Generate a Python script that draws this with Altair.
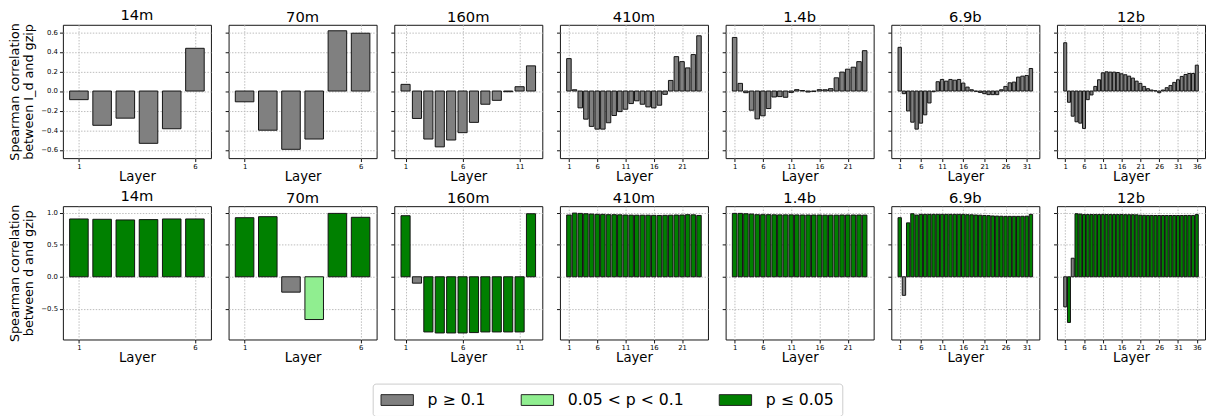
import altair as alt
import pandas as pd

MODELS = ["14m", "70m", "160m", "410m", "1.4b", "6.9b", "12b"]

SIG_HI = "p ≥ 0.1"
SIG_MID = "0.05 < p < 0.1"
SIG_LO = "p ≤ 0.05"
CATEGORIES = [SIG_HI, SIG_MID, SIG_LO]
COLORS = ["#808080", "#90ee90", "#008000"]

# --- top row: Spearman correlation between I_d and gzip ---
TOP_14M = [-0.088, -0.35, -0.277, -0.534, -0.385, 0.436]
TOP_70M = [-0.11, -0.40, -0.595, -0.49, 0.615, 0.59]
TOP_160M = [0.068, -0.28, -0.49, -0.57, -0.50, -0.425, -0.32, -0.135, -0.095, -0.007, 0.044, 0.257]
TOP_410M = [0.331, 0.013, -0.172, -0.287, -0.361, -0.389, -0.389, -0.324, -0.25, -0.21, -0.186, -0.128,
            -0.10, -0.135, -0.162, -0.172, -0.145, -0.034, 0.108, 0.351, 0.30, 0.236, 0.372, 0.564]
TOP_1_4B = [0.547, 0.078, -0.017, -0.196, -0.284, -0.253, -0.179, -0.061, -0.057, -0.064, -0.014, 0.014,
            0.005, -0.01, -0.004, 0.014, 0.013, 0.024, 0.135, 0.193, 0.223, 0.243, 0.30, 0.412]
TOP_6_9B = [0.446, -0.027, -0.203, -0.318, -0.389, -0.328, -0.243, -0.122, -0.007, 0.095, 0.118, 0.101,
            0.118, 0.111, 0.118, 0.081, 0.04, 0.013, -0.003, -0.014, -0.027, -0.037, -0.037, -0.037,
            0.013, 0.047, 0.084, 0.091, 0.142, 0.152, 0.159, 0.23]
TOP_12B = [0.493, -0.115, -0.257, -0.314, -0.328, -0.382, -0.088, -0.04, 0.047, 0.115, 0.186, 0.196,
           0.193, 0.193, 0.189, 0.176, 0.166, 0.152, 0.132, 0.101, 0.078, 0.047, 0.024, 0.01,
           0.003, -0.017, 0.01, 0.034, 0.057, 0.088, 0.115, 0.149, 0.169, 0.179, 0.179, 0.264]

# --- bottom row: Spearman correlation between d and gzip ---
BOT_14M = [0.903, 0.898, 0.888, 0.893, 0.903, 0.903]
BOT_70M = [0.923, 0.939, -0.24, -0.668, 0.99, 0.929]
BOT_160M = [0.954, -0.10, -0.862, -0.878, -0.878, -0.878, -0.872, -0.862, -0.862, -0.862, -0.862, 0.985]
BOT_410M = [0.965, 0.995, 0.99, 0.985, 0.98, 0.975, 0.975, 0.97, 0.97, 0.968, 0.965, 0.963,
            0.962, 0.962, 0.962, 0.96, 0.958, 0.96, 0.962, 0.965, 0.965, 0.97, 0.968, 0.958]
BOT_1_4B = [0.99, 0.99, 0.985, 0.98, 0.97, 0.97, 0.97, 0.968, 0.967, 0.967, 0.967, 0.966,
            0.965, 0.965, 0.965, 0.965, 0.963, 0.963, 0.963, 0.965, 0.965, 0.965, 0.965, 0.963]
BOT_6_9B = [0.923, -0.29, 0.842, 0.985, 0.964, 0.975, 0.975, 0.975, 0.975, 0.975, 0.975, 0.975,
            0.975, 0.975, 0.975, 0.975, 0.97, 0.968, 0.965, 0.962, 0.958, 0.955, 0.95, 0.948,
            0.946, 0.944, 0.944, 0.944, 0.944, 0.945, 0.946, 0.975]
BOT_12B = [-0.47, -0.714, 0.29, 0.985, 0.98, 0.972, 0.972, 0.972, 0.972, 0.972, 0.972, 0.972,
           0.972, 0.972, 0.972, 0.972, 0.97, 0.97, 0.97, 0.968, 0.962, 0.96, 0.958, 0.958,
           0.957, 0.957, 0.957, 0.957, 0.957, 0.957, 0.957, 0.957, 0.958, 0.958, 0.958, 0.972]

G, L, N = SIG_LO, SIG_MID, SIG_HI
SIG_14M = [G] * 6
SIG_70M = [G, G, N, L, G, G]
SIG_160M = [G, N] + [G] * 10
SIG_410M = [G] * 24
SIG_1_4B = [G] * 24
SIG_6_9B = [G, N] + [G] * 30
SIG_12B = [N, G, N] + [G] * 33

TOP_ROW = [TOP_14M, TOP_70M, TOP_160M, TOP_410M, TOP_1_4B, TOP_6_9B, TOP_12B]
BOT_ROW = [BOT_14M, BOT_70M, BOT_160M, BOT_410M, BOT_1_4B, BOT_6_9B, BOT_12B]
BOT_SIG = [SIG_14M, SIG_70M, SIG_160M, SIG_410M, SIG_1_4B, SIG_6_9B, SIG_12B]

TOP_TICKS = [-0.6, -0.4, -0.2, 0.0, 0.2, 0.4, 0.6]
BOT_TICKS = [-0.5, 0.0, 0.5, 1.0]
TOP_DOMAIN = [-0.685, 0.676]
BOT_DOMAIN = [-0.98, 1.103]

FONT = "DejaVu Sans"
W, H = 151, 136

legend_def = alt.Legend(
    orient="none", legendX=316, legendY=366, direction="horizontal", title=None,
    labelFontSize=16, labelFont=FONT, labelColor="black",
    symbolType="M-1,-0.6875H3.125V0.6875H-1Z", symbolSize=256,
    symbolStrokeColor="#222222", symbolStrokeWidth=1, symbolOpacity=1, labelOffset=31,
    columnPadding=33, padding=8, strokeColor="#cccccc", cornerRadius=3, fillColor="white",
)


def panel(name, vals, cats, ydom, yticks, ytitle, first):
    n = len(vals)
    df = pd.DataFrame({"layer": list(range(1, n + 1)), "value": vals, "sig": cats})
    pad = 0.05 * (n - 0.2)
    xdom = [0.6 - pad, n + 0.4 + pad]
    xticks = list(range(1, n + 1, 5))
    if first:
        yaxis = alt.Axis(values=yticks, format=".1f", title=ytitle, labelFontSize=7,
                         titleFontSize=13, titleFontWeight="normal", titleLineHeight=15,
                         titlePadding=5, tickSize=3.5, labelPadding=2, grid=True,
                         gridDash=[1.5, 1.5], gridColor="#bbbbbb", domain=False)
    else:
        yaxis = alt.Axis(values=yticks, labels=False, title=None, tickSize=3.5, grid=True,
                         gridDash=[1.5, 1.5], gridColor="#bbbbbb", domain=False)
    xaxis = alt.Axis(values=xticks, format="d", title="Layer", titleFontSize=13.5,
                     titleFontWeight="normal", titlePadding=0, labelFontSize=7, labelPadding=1,
                     tickSize=3.5, grid=True, gridDash=[1.5, 1.5], gridColor="#bbbbbb",
                     domain=False, labelFlush=False)
    return (
        alt.Chart(df)
        .transform_calculate(x0="datum.layer - 0.4", x1="datum.layer + 0.4")
        .mark_bar(stroke="#111111", strokeWidth=1, opacity=1)
        .encode(
            x=alt.X("x0:Q", scale=alt.Scale(domain=xdom, nice=False, zero=False), axis=xaxis),
            x2="x1:Q",
            y=alt.Y("value:Q", stack=None, scale=alt.Scale(domain=ydom, nice=False), axis=yaxis),
            y2=alt.datum(0),
            color=alt.Color("sig:N", scale=alt.Scale(domain=CATEGORIES, range=COLORS),
                            legend=legend_def),
        )
        .properties(width=W, height=H,
                    title=alt.TitleParams(name, fontSize=15, fontWeight="normal", font=FONT,
                                          offset=0, color="black"))
    )


top = alt.hconcat(*[
    panel(m, v, [SIG_HI] * len(v), TOP_DOMAIN, TOP_TICKS,
          ["Spearman correlation", "between I_d and gzip"], i == 0)
    for i, (m, v) in enumerate(zip(MODELS, TOP_ROW))
], spacing=12)

bottom = alt.hconcat(*[
    panel(m, v, s, BOT_DOMAIN, BOT_TICKS,
          ["Spearman correlation", "between d and gzip"], i == 0)
    for i, (m, v, s) in enumerate(zip(MODELS, BOT_ROW, BOT_SIG))
], spacing=12)

chart = (
    alt.vconcat(top, bottom, spacing=5)
    .properties(padding={"left": 0, "top": -5, "right": 0, "bottom": 0})
    .configure(font=FONT)
    .configure_title(fontWeight="normal", font=FONT)
    .configure_view(stroke="#111111", strokeWidth=1)
    .configure_axis(labelColor="black", titleColor="black", tickColor="#111111", labelFont=FONT,
                    titleFont=FONT)
)

chart.save("out.html", embed_options={"renderer": "svg", "actions": False})
